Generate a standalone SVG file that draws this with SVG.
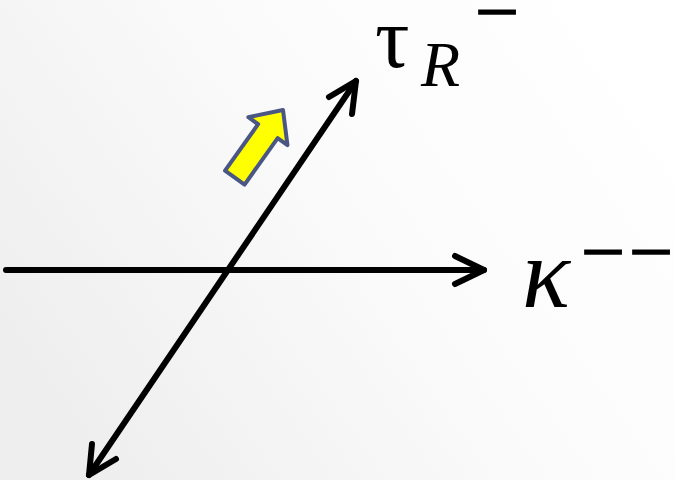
<svg xmlns="http://www.w3.org/2000/svg" width="674" height="480" viewBox="0 0 674 480">
<defs>
<linearGradient id="bg" x1="0" y1="0.7" x2="1" y2="0.2">
<stop offset="0" stop-color="#eeeeee"/>
<stop offset="0.55" stop-color="#fbfbfb"/>
<stop offset="1" stop-color="#ffffff"/>
</linearGradient>
<style>
.ax{fill:none;stroke:#000;stroke-width:6;stroke-linecap:round;stroke-linejoin:round}
.m{font-family:"Liberation Serif","DejaVu Serif",serif;fill:#000}
.it{font-style:italic}
.bar{font-family:"Liberation Serif","DejaVu Serif",serif;fill:#000;stroke:#000;stroke-width:1.5}
</style>
</defs>
<rect width="674" height="480" fill="url(#bg)"/>
<g id="connectors">
<path class="ax" d="M6 270 H484"/>
<path class="ax" d="M455 256 L484 270 L455 284"/>
<path class="ax" d="M89 475 L356 81"/>
<path class="ax" d="M329 97 L356 81 L352 114"/>
<path class="ax" d="M92 444 L89 475 L116 459"/>
</g>
<g id="yellow-arrow">
<polygon points="0,0 -26,-24 -26,-12 -83,-12 -83,12 -26,12 -26,24" transform="translate(283,110) rotate(-54.5)" fill="#ffff00" stroke="#4a5785" stroke-width="4" stroke-linejoin="round"/>
</g>
<g id="tau-label">
<text class="m" x="375" y="67" font-size="86">τ</text>
<text class="m it" x="421" y="86" font-size="64">R</text>
<text class="bar" x="475" y="37.5" font-size="78">−</text>
</g>
<g id="kappa-label">
<text class="m it" x="522" y="307" font-size="100">κ</text>
<text class="bar" x="581" y="277.5" font-size="78">−</text>
<text class="bar" x="629" y="277.5" font-size="78">−</text>
</g>
</svg>
